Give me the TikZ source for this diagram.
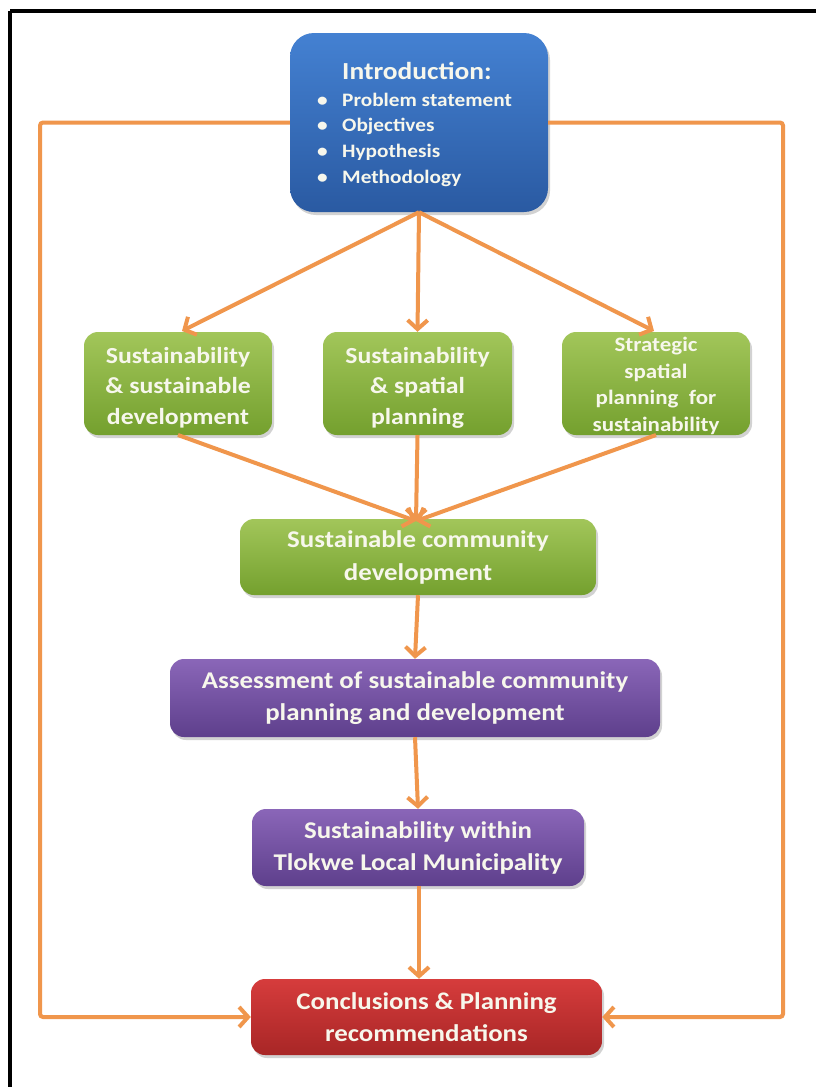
\documentclass[tikz,border=0pt]{standalone}
\usepackage{fontspec}
\setmainfont[FakeStretch=1.12]{Carlito}
\usetikzlibrary{arrows.meta,shadows}
\definecolor{arrorange}{HTML}{F0964C}
\definecolor{bluetop}{HTML}{4481D2}
\definecolor{bluebot}{HTML}{2A5AA2}
\definecolor{greentop}{HTML}{A2C65A}
\definecolor{greenbot}{HTML}{74A02E}
\definecolor{purptop}{HTML}{8A66B8}
\definecolor{purpbot}{HTML}{5E3F8C}
\definecolor{redtop}{HTML}{D63C3C}
\definecolor{redbot}{HTML}{A82626}
\definecolor{txtw}{HTML}{F7F7EC}
\tikzset{
  box/.style={rounded corners=14pt, text=txtw, font=\bfseries, align=center,
    inner sep=0pt, drop shadow={shadow xshift=2pt, shadow yshift=-3pt, opacity=0.35}},
  bluebox/.style={box, top color=bluetop, bottom color=bluebot, rounded corners=24pt},
  greenbox/.style={box, top color=greentop, bottom color=greenbot},
  purpbox/.style={box, top color=purptop, bottom color=purpbot},
  redbox/.style={box, top color=redtop, bottom color=redbot},
  conn/.style={draw=arrorange, line width=4pt, -{Straight Barb[length=9pt,width=20pt,line width=4pt]}},
  loop/.style={conn, rounded corners=3pt}
}
\newcommand{\bul}{\makebox[27pt][l]{\hspace*{2pt}\textbullet}}
\begin{document}
\begin{tikzpicture}[x=1pt,y=-1pt]
\useasboundingbox (0,0) rectangle (815,1087);
\fill[white] (0,0) rectangle (815,1087);
\draw[line width=4pt] (10,11) -- (820,11);
\draw[line width=4pt] (10,11) -- (10,1095);
% boxes
\node[bluebox, minimum width=258pt, minimum height=179pt] (intro) at (419,122.5) {};
\node[text=txtw, align=left, anchor=north west, inner sep=0pt,
  font=\bfseries\fontsize{19}{25.7}\selectfont] (introtxt) at (315,62)
 {\hspace*{27pt}{\fontsize{24.5}{28}\selectfont Introduction:}\\[1pt]
  \bul Problem statement\\
  \bul Objectives\\
  \bul Hypothesis\\
  \bul Methodology};
\node[greenbox, minimum width=188pt, minimum height=103pt, font=\bfseries\fontsize{23}{30.5}\selectfont] (g1) at (178,383.5)
 {\rule{0pt}{24pt}Sustainability\\\& sustainable\\development};
\node[greenbox, minimum width=189pt, minimum height=103pt, font=\bfseries\fontsize{23}{30.5}\selectfont] (g2) at (417.5,383.5)
 {\rule{0pt}{24pt}Sustainability\\\& spatial\\planning};
\node[greenbox, minimum width=188pt, minimum height=103pt, font=\bfseries\fontsize{20.5}{26.5}\selectfont] (g3) at (656,383.5)
 {\rule{0pt}{19pt}Strategic\\spatial\\planning~ for\\sustainability};
\node[greenbox, minimum width=356pt, minimum height=76pt, font=\bfseries\fontsize{24}{33}\selectfont] (scd) at (418,557)
 {Sustainable community\\development};
\node[purpbox, minimum width=490pt, minimum height=78pt, font=\bfseries\fontsize{24}{32}\selectfont] (assess) at (415,698)
 {Assessment of sustainable community\\planning and development};
\node[purpbox, minimum width=332pt, minimum height=77pt, font=\bfseries\fontsize{24}{32}\selectfont] (tlokwe) at (418,847.5)
 {Sustainability within\\Tlokwe Local Municipality};
\node[redbox, minimum width=351pt, minimum height=76pt, font=\bfseries\fontsize{24}{32}\selectfont] (concl) at (426.5,1017)
 {Conclusions \& Planning\\recommendations};
% connectors
\coordinate (g1top) at (182,331);
\coordinate (g3top) at (654,331);
\coordinate (g1bot) at (178,435);
\coordinate (g3bot) at (656,435);
\coordinate (meet) at (416,521);
\draw[conn] (intro.south) -- (g1top);
\draw[conn] (intro.south) -- (g2.north);
\draw[conn] (intro.south) -- (g3top);
\draw[conn] (g1bot) -- (meet);
\draw[conn] (g2.south) -- (meet);
\draw[conn] (g3bot) -- (meet);
\draw[conn] (scd.south) -- (assess.north);
\draw[conn] (assess.south) -- (tlokwe.north);
\draw[conn] ([xshift=1pt]tlokwe.south) -- ([xshift=-7.5pt]concl.north);
\coordinate (L) at (40,1017);
\coordinate (R) at (783,1017);
\draw[loop] (intro.west) -| (L) -- (concl.west);
\draw[loop] (intro.east) -| (R) -- (concl.east);
\end{tikzpicture}
\end{document}
